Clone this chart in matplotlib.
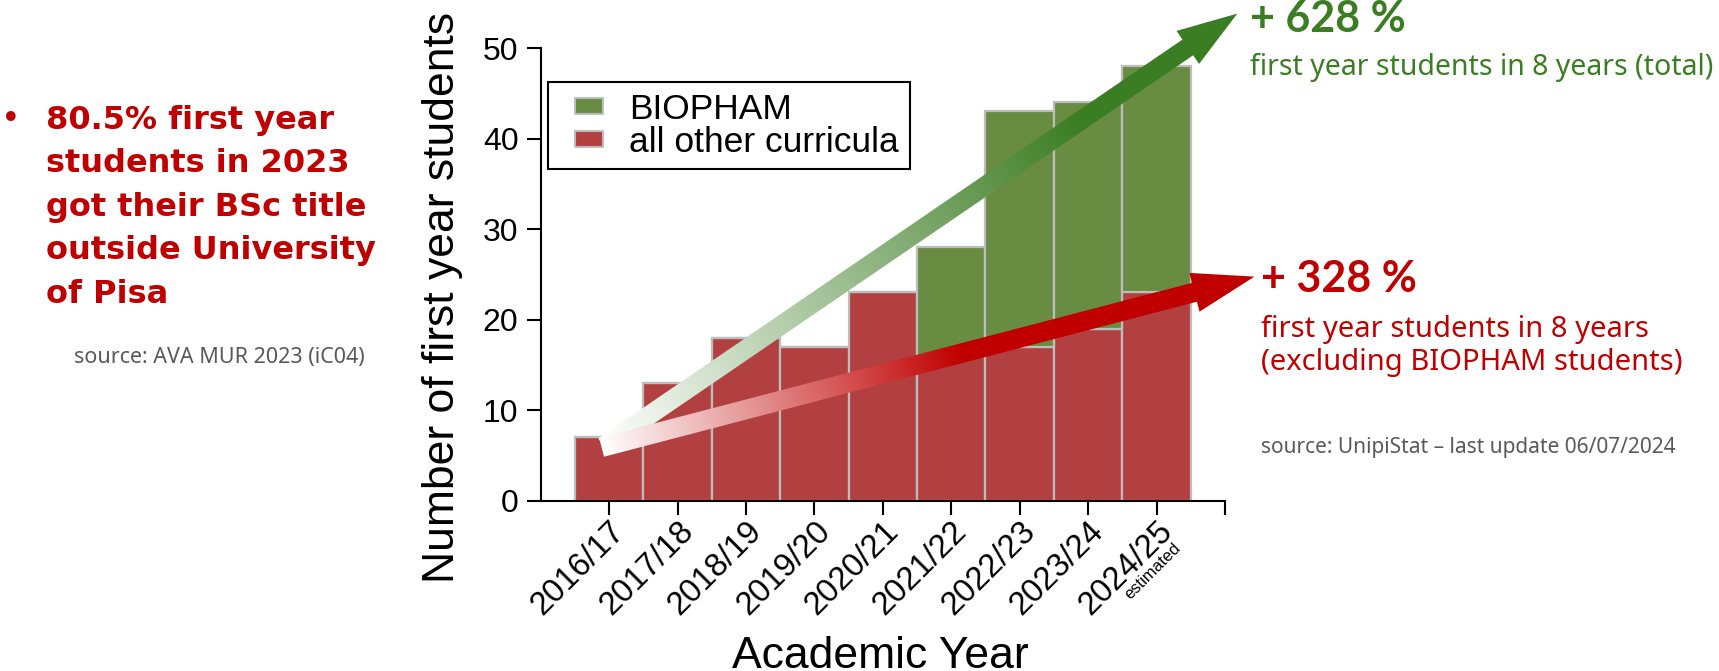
import matplotlib.pyplot as plt
import numpy as np
from matplotlib.patches import Polygon
from matplotlib.lines import Line2D
from matplotlib.colors import to_rgb

# data
years = ["2016/17", "2017/18", "2018/19", "2019/20", "2020/21",
         "2021/22", "2022/23", "2023/24", "2024/25"]
other = [7, 13, 18, 17, 23, 16, 17, 19, 23]
biopham = [0, 0, 0, 0, 0, 12, 26, 25, 25]

# arrow anchors (data coords): tail, tip
green_arrow = [(-0.08, 6.0), (9.18, 53.8)]
red_arrow = [(-0.11, 5.9), (9.43, 24.75)]

left_lines = ["80.5% first year", "students in 2023", "got their BSc title",
              "outside University", "of Pisa"]

W, H = 1719, 671
plt.rcParams['font.family'] = ['Liberation Sans', 'DejaVu Sans']
BIG_FONT = ['Lato', 'DejaVu Sans']
REG_FONT = ['Noto Sans', 'DejaVu Sans']

RED = '#B24041'
GREEN = '#688C42'
EDGE = '#BDBDBD'
TXT_GREEN = '#3B7D23'
TXT_RED = '#C00000'
GRAY = '#595959'

fig = plt.figure(figsize=(W / 100, H / 100), dpi=100)
ax = fig.add_axes([540.7 / W, 1 - 500.7 / H, (1225 - 540.7) / W, (500.7 - 48) / H])

x = np.arange(len(years))
ax.bar(x, other, width=1, color=RED, edgecolor=EDGE, linewidth=1.6, zorder=2)
ax.bar(x, biopham, width=1, bottom=other, color=GREEN, edgecolor=EDGE, linewidth=1.6, zorder=2)

ax.set_xlim(-1, 9)
ax.set_ylim(0, 50)
for s in ['top', 'right']:
    ax.spines[s].set_visible(False)
for s in ['left', 'bottom']:
    ax.spines[s].set_linewidth(1.5)
    ax.spines[s].set_zorder(3)

ax.set_yticks([0, 10, 20, 30, 40, 50])
ax.set_xticks(list(x) + [9])
ax.set_xticklabels(years + [''], rotation=45, ha='right', va='top', rotation_mode='anchor',
                   fontsize=23.5)
ax.tick_params(axis='both', direction='out', length=10, width=1.5)
ax.tick_params(axis='y', pad=6, labelsize=23)
ax.tick_params(axis='x', pad=1)

ax.annotate('estimated', xy=(8, 0), xytext=(12, -28.5), textcoords='offset points',
            rotation=45, rotation_mode='anchor', ha='right', va='top', fontsize=12)

ax.set_ylabel('Number of first year students', fontsize=32)
ax.yaxis.set_label_coords(-0.113, 0.45)
ax.set_xlabel('Academic Year', fontsize=32)
ax.xaxis.set_label_coords(0.496, -0.298)

box = [(-1.75, -1), (1.75, -1), (1.75, 1), (-1.75, 1), (-1.75, -1)]
handles = [Line2D([], [], linestyle='none', marker=box, markersize=20, markerfacecolor=GREEN,
                  markeredgecolor=EDGE, markeredgewidth=1.5, label='BIOPHAM'),
           Line2D([], [], linestyle='none', marker=box, markersize=20, markerfacecolor=RED,
                  markeredgecolor=EDGE, markeredgewidth=1.5, label='all other curricula')]
leg = ax.legend(handles=handles, loc='upper left', bbox_to_anchor=(0.0107, 0.925),
                fontsize=25.5, frameon=True, fancybox=False, edgecolor='black', framealpha=1,
                numpoints=1, handlelength=1.7, handletextpad=0.3, borderpad=0.3,
                labelspacing=0.0, borderaxespad=0)
leg.get_frame().set_linewidth(1.5)

# overlay in pixel coordinates for the gradient arrows
ov = fig.add_axes([0, 0, 1, 1], zorder=5)
ov.axis('off')


def grad_arrow(tail, tip, color, t_full, shaft, head_w, head_l):
    p0 = ax.transData.transform(tail)
    p1 = ax.transData.transform(tip)
    d = p1 - p0
    L = np.hypot(*d)
    u = d / L
    n = np.array([-u[1], u[0]])
    base = p1 - u * head_l
    pts = [p0 + n * shaft / 2, base + n * shaft / 2, base + n * head_w / 2, p1,
           base - n * head_w / 2, base - n * shaft / 2, p0 - n * shaft / 2]
    poly = Polygon(pts, closed=True, facecolor='none', edgecolor='none')
    ov.add_patch(poly)
    pts = np.array(pts)
    x0, y0 = pts.min(axis=0) - 2
    x1, y1 = pts.max(axis=0) + 2
    gx, gy = np.meshgrid(np.linspace(x0, x1, 400), np.linspace(y0, y1, 400))
    t = ((gx - p0[0]) * u[0] + (gy - p0[1]) * u[1]) / L
    f = np.clip(t / t_full, 0, 1)[..., None]
    c = np.array(to_rgb(color))
    img = 1 + (c - 1) * f
    im = ov.imshow(img, extent=(x0, x1, y0, y1), origin='lower', aspect='auto',
                   interpolation='bilinear')
    im.set_clip_path(poly)


grad_arrow(green_arrow[0], green_arrow[1], '#3B7D23', 0.75, 19, 40, 60)
grad_arrow(red_arrow[0], red_arrow[1], '#C00000', 0.55, 19.5, 40, 62)
ov.set_xlim(0, W)
ov.set_ylim(0, H)


def fx(px):
    return px / W


def fy(py):
    return 1 - py / H


# left bullet text
fig.text(fx(1), fy(129), '•', color=TXT_RED, fontsize=24, family='DejaVu Sans', va='baseline')
for i, line in enumerate(left_lines):
    fig.text(fx(46), fy(128.5 + i * 43.6), line, color=TXT_RED, fontsize=23, fontweight='bold',
             family='DejaVu Sans', va='baseline')
fig.text(fx(74), fy(363), 'source: AVA MUR 2023 (iC04)', color=GRAY, fontsize=15.5,
         family=REG_FONT, va='baseline')

# right annotations
fig.text(fx(1250), fy(31.7), '+ 628 %', color=TXT_GREEN, fontsize=31, fontweight='bold',
         family=BIG_FONT, va='baseline')
fig.text(fx(1250), fy(75), 'first year students in 8 years (total)', color=TXT_GREEN,
         fontsize=20.5, family=REG_FONT, va='baseline')
fig.text(fx(1261), fy(291.7), '+ 328 %', color=TXT_RED, fontsize=31, fontweight='bold',
         family=BIG_FONT, va='baseline')
fig.text(fx(1261), fy(337), 'first year students in 8 years', color=TXT_RED,
         fontsize=21, family=REG_FONT, va='baseline')
fig.text(fx(1261), fy(370), '(excluding BIOPHAM students)', color=TXT_RED,
         fontsize=21, family=REG_FONT, va='baseline')
fig.text(fx(1261), fy(452.7), 'source: UnipiStat \u2013 last update 06/07/2024', color=GRAY,
         fontsize=15, family=REG_FONT, va='baseline')

fig.savefig('out.png', dpi=100)
